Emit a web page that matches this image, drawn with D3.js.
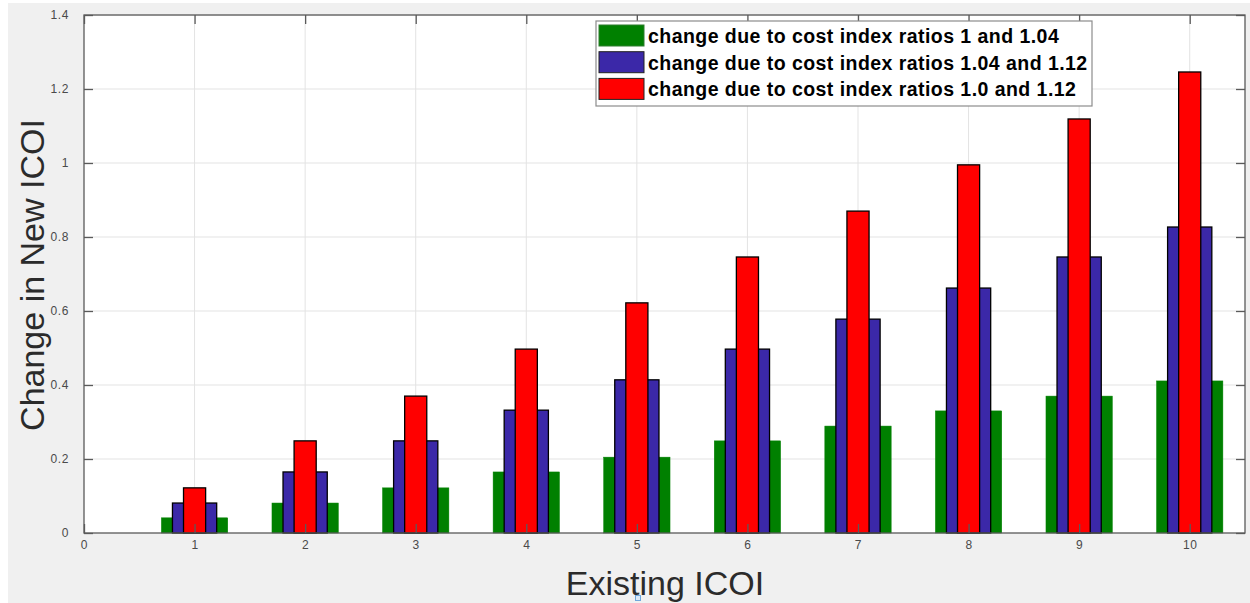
<!DOCTYPE html>
<html>
<head>
<meta charset="utf-8">
<script src="https://cdn.jsdelivr.net/npm/d3@7"></script>
<style>
  html, body { margin: 0; padding: 0; background: #ffffff; }
  svg { display: block; }
  text { font-family: "Liberation Sans", Arial, Helvetica, sans-serif; }
</style>
</head>
<body>
<svg id="chart" width="1250" height="603"></svg>
<script>
// Existing ICOI on the x axis
const categories = [1, 2, 3, 4, 5, 6, 7, 8, 9, 10];

// Change in new ICOI for each pair of cost index ratios
const change_1_104 = [0.041, 0.081, 0.122, 0.165, 0.205, 0.249, 0.289, 0.330, 0.370, 0.411];
const change_104_112 = [0.081, 0.165, 0.249, 0.332, 0.414, 0.497, 0.578, 0.662, 0.746, 0.827];
const change_10_112 = [0.122, 0.249, 0.370, 0.497, 0.622, 0.746, 0.870, 0.995, 1.119, 1.246];

const seriesNames = [
  "change due to cost index ratios 1 and 1.04",
  "change due to cost index ratios 1.04 and 1.12",
  "change due to cost index ratios 1.0 and 1.12"
];

const xTicks = [0, 1, 2, 3, 4, 5, 6, 7, 8, 9, 10];
const yTicks = [0, 0.2, 0.4, 0.6, 0.8, 1, 1.2, 1.4];

const svg = d3.select("#chart");
const W = 1250, H = 603;
const plot = { left: 84, top: 15, right: 1245, bottom: 533 };

// figure background
svg.append("rect").attr("x", 8).attr("y", 3).attr("width", W - 8).attr("height", H - 3)
  .attr("fill", "#f0f0f0");

const x = d3.scaleLinear().domain([0, 10.5]).range([plot.left, plot.right]);
const y = d3.scaleLinear().domain([0, 1.4]).range([plot.bottom, plot.top]);

// axes background
svg.append("rect")
  .attr("x", plot.left).attr("y", plot.top)
  .attr("width", plot.right - plot.left).attr("height", plot.bottom - plot.top)
  .attr("fill", "#ffffff");

// grid
const grid = svg.append("g");
grid.selectAll("line.gx").data(xTicks.slice(1)).join("line")
  .attr("x1", d => x(d)).attr("x2", d => x(d))
  .attr("y1", plot.top).attr("y2", plot.bottom)
  .attr("stroke", "#e3e3e3").attr("stroke-width", 1);
grid.selectAll("line.gy").data(yTicks.slice(1)).join("line")
  .attr("x1", plot.left).attr("x2", plot.right)
  .attr("y1", d => y(d)).attr("y2", d => y(d))
  .attr("stroke", "#e3e3e3").attr("stroke-width", 1);

// bars: widest drawn first, narrowest on top
const series = [
  { values: change_1_104, width: 0.6, fill: "#008000", stroke: "#008000", sw: 0.5 },
  { values: change_104_112, width: 0.4, fill: "#3b28a8", stroke: "#000000", sw: 1.3 },
  { values: change_10_112, width: 0.2, fill: "#ff0000", stroke: "#000000", sw: 1.3 }
];

const bars = svg.append("g");
series.forEach(s => {
  bars.append("g").selectAll("rect").data(categories).join("rect")
    .attr("x", (d) => x(d - s.width / 2))
    .attr("width", x(s.width) - x(0))
    .attr("y", (d, i) => y(s.values[i]))
    .attr("height", (d, i) => y(0) - y(s.values[i]))
    .attr("fill", s.fill)
    .attr("stroke", s.stroke)
    .attr("stroke-width", s.sw);
});

// axis lines and inward ticks
const axisColor = "#5a5a5a";
const tickLen = 9;
const frame = svg.append("g").attr("fill", "none").attr("stroke", axisColor);
frame.append("rect")
  .attr("x", plot.left).attr("y", plot.top)
  .attr("width", plot.right - plot.left).attr("height", plot.bottom - plot.top)
  .attr("stroke-width", 1.3);

const xAxisBottom = d3.axisBottom(x).tickValues(xTicks).tickSizeInner(-tickLen).tickSizeOuter(0).tickPadding(14);
const gxb = svg.append("g").attr("transform", `translate(0,${plot.bottom})`).call(xAxisBottom);
const xAxisTop = d3.axisTop(x).tickValues(xTicks).tickSizeInner(-tickLen).tickSizeOuter(0).tickFormat("");
const gxt = svg.append("g").attr("transform", `translate(0,${plot.top})`).call(xAxisTop);
const yAxisLeft = d3.axisLeft(y).tickValues(yTicks).tickSizeInner(-tickLen).tickSizeOuter(0).tickPadding(15)
  .tickFormat(d => d3.format("")(+d.toFixed(1)));
const gyl = svg.append("g").attr("transform", `translate(${plot.left},0)`).call(yAxisLeft);
const yAxisRight = d3.axisRight(y).tickValues(yTicks).tickSizeInner(-tickLen).tickSizeOuter(0).tickFormat("");
const gyr = svg.append("g").attr("transform", `translate(${plot.right},0)`).call(yAxisRight);

[gxb, gxt, gyl, gyr].forEach(g => {
  g.select(".domain").remove();
  g.selectAll(".tick line").attr("stroke", axisColor).attr("stroke-width", 1.3);
  g.selectAll(".tick text")
    .attr("fill", "#4a4a4a")
    .style("font-family", "'Liberation Sans', Arial, sans-serif")
    .style("font-size", "12px")
    .style("letter-spacing", "0.6px");
});
gxb.selectAll(".tick text").attr("dy", "0.2em");

// axis titles
svg.append("text")
  .attr("x", 665).attr("y", 595)
  .attr("text-anchor", "middle")
  .attr("fill", "#2b2b2b")
  .style("font-size", "34px")
  .text("Existing ICOI");

svg.append("text")
  .attr("transform", "translate(44,275) rotate(-90)")
  .attr("text-anchor", "middle")
  .attr("fill", "#2b2b2b")
  .style("font-size", "34px")
  .text("Change in New ICOI");

// small selection marker under the x title
svg.append("rect")
  .attr("x", 635.5).attr("y", 595.5).attr("width", 5).attr("height", 5)
  .attr("fill", "#dbe9f7").attr("stroke", "#6fa8dc").attr("stroke-width", 1);

// legend
const legend = svg.append("g").attr("transform", "translate(596,21)");
legend.append("rect")
  .attr("x", 0).attr("y", 0).attr("width", 496).attr("height", 85)
  .attr("fill", "#ffffff").attr("stroke", "#8c8c8c").attr("stroke-width", 1.2);
const legendFills = series.map(s => s.fill);
const legendRows = legend.selectAll("g.row").data(seriesNames).join("g")
  .attr("transform", (d, i) => `translate(3,${4 + i * 26.7})`);
legendRows.append("rect")
  .attr("x", 0).attr("y", 0).attr("width", 45).attr("height", 21)
  .attr("fill", (d, i) => legendFills[i])
  .attr("stroke", (d, i) => i === 0 ? "#2e7d2e" : "#222222")
  .attr("stroke-width", 1);
legendRows.append("text")
  .attr("x", 49).attr("y", 18)
  .attr("fill", "#000000")
  .style("font-size", "19.5px")
  .style("font-weight", "bold")
  .style("letter-spacing", "0.45px")
  .text(d => d);
</script>
</body>
</html>
